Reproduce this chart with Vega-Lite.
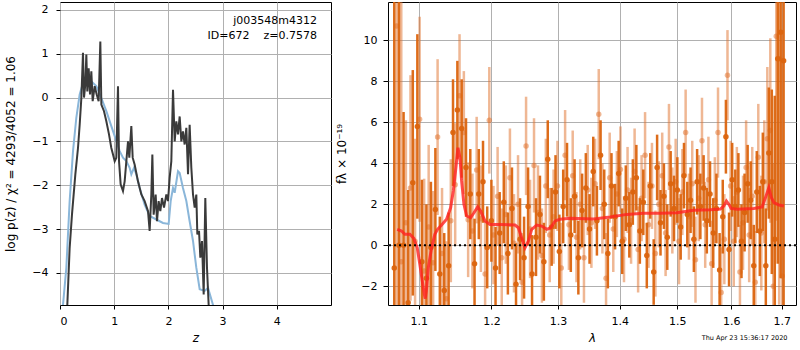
{
  "$schema": "https://vega.github.io/schema/vega-lite/v6.json",
  "background": "white",
  "padding": {"left": 4, "top": 1, "right": 0, "bottom": 0},
  "spacing": 3,
  "config": {
    "font": "DejaVu Sans",
    "view": {"stroke": "black", "strokeWidth": 1},
    "axis": {
      "domain": false,
      "grid": true,
      "gridColor": "#b0b0b0",
      "gridWidth": 1,
      "tickColor": "black",
      "tickSize": 4,
      "labelColor": "black",
      "labelFontSize": 11,
      "labelFont": "DejaVu Sans",
      "titleFont": "DejaVu Sans",
      "titleFontSize": 12,
      "titleFontWeight": "normal",
      "titleColor": "black"
    }
  },
  "title": {"text": "Thu Apr 23 15:36:17 2020", "orient": "bottom", "anchor": "end", "fontSize": 6.5, "fontWeight": "normal", "font": "DejaVu Sans", "color": "black", "offset": -9, "dx": -10},
  "datasets": {
    "blk": [
      {"z":0.12,"v":-5.3},{"z":0.135,"v":-4.73},{"z":0.178,"v":-3.43},{"z":0.221,"v":-2.67},{"z":0.283,"v":-1.75},{"z":0.332,"v":-1.15},{"z":0.363,"v":-0.62},{"z":0.394,"v":-0.01},{"z":0.424,"v":1.02},{"z":0.443,"v":0.0},{"z":0.467,"v":0.30},{"z":0.486,"v":0.98},{"z":0.504,"v":0.14},{"z":0.529,"v":0.67},{"z":0.554,"v":0.07},{"z":0.578,"v":0.60},{"z":0.603,"v":-0.08},{"z":0.640,"v":0.26},{"z":0.677,"v":0.07},{"z":0.713,"v":-0.08},{"z":0.744,"v":1.28},{"z":0.763,"v":-0.16},{"z":0.812,"v":-0.31},{"z":0.855,"v":-0.54},{"z":0.904,"v":-0.84},{"z":0.947,"v":-1.15},{"z":0.978,"v":-1.30},{"z":1.009,"v":-1.45},{"z":1.039,"v":-1.37},{"z":1.070,"v":0.26},{"z":1.089,"v":-1.45},{"z":1.119,"v":-1.98},{"z":1.162,"v":-2.13},{"z":1.193,"v":-1.91},{"z":1.224,"v":-1.45},{"z":1.255,"v":-1.0},{"z":1.279,"v":-1.37},{"z":1.316,"v":-0.65},{"z":1.341,"v":-1.37},{"z":1.378,"v":-1.53},{"z":1.439,"v":-1.91},{"z":1.501,"v":-2.21},{"z":1.562,"v":-2.36},{"z":1.624,"v":-2.59},{"z":1.654,"v":-3.04},{"z":1.685,"v":-2.21},{"z":1.704,"v":-1.30},{"z":1.728,"v":-2.67},{"z":1.765,"v":-2.21},{"z":1.790,"v":-2.82},{"z":1.820,"v":-2.36},{"z":1.851,"v":-2.59},{"z":1.882,"v":-2.29},{"z":1.919,"v":-2.51},{"z":1.962,"v":-2.21},{"z":1.993,"v":-2.36},{"z":2.023,"v":-1.83},{"z":2.054,"v":-1.45},{"z":2.085,"v":0.18},{"z":2.116,"v":-1.0},{"z":2.146,"v":-0.54},{"z":2.177,"v":-0.84},{"z":2.208,"v":-0.43},{"z":2.239,"v":-1.0},{"z":2.269,"v":-0.77},{"z":2.300,"v":-1.07},{"z":2.331,"v":-0.69},{"z":2.362,"v":-1.75},{"z":2.392,"v":-0.62},{"z":2.423,"v":-1.60},{"z":2.454,"v":-2.21},{"z":2.485,"v":-2.51},{"z":2.515,"v":-2.21},{"z":2.534,"v":-3.12},{"z":2.565,"v":-3.04},{"z":2.589,"v":-3.65},{"z":2.620,"v":-3.27},{"z":2.651,"v":-4.49},{"z":2.681,"v":-2.29},{"z":2.712,"v":-3.88},{"z":2.743,"v":-4.73},{"z":2.78,"v":-5.5}
    ],
    "blu": [
      {"z":0.045,"v":-5.4},{"z":0.055,"v":-4.73},{"z":0.117,"v":-3.88},{"z":0.178,"v":-2.36},{"z":0.240,"v":-1.22},{"z":0.301,"v":-0.46},{"z":0.363,"v":0.07},{"z":0.424,"v":0.33},{"z":0.486,"v":0.41},{"z":0.578,"v":0.37},{"z":0.670,"v":0.26},{"z":0.763,"v":-0.01},{"z":0.855,"v":-0.31},{"z":0.947,"v":-0.65},{"z":1.039,"v":-0.99},{"z":1.101,"v":-1.22},{"z":1.162,"v":-1.37},{"z":1.224,"v":-1.45},{"z":1.285,"v":-1.60},{"z":1.316,"v":-1.75},{"z":1.365,"v":-1.60},{"z":1.408,"v":-1.75},{"z":1.470,"v":-2.06},{"z":1.562,"v":-2.44},{"z":1.654,"v":-2.70},{"z":1.777,"v":-2.78},{"z":1.900,"v":-2.86},{"z":2.005,"v":-2.88},{"z":2.042,"v":-2.36},{"z":2.085,"v":-2.06},{"z":2.116,"v":-2.17},{"z":2.177,"v":-1.68},{"z":2.208,"v":-1.72},{"z":2.269,"v":-2.06},{"z":2.331,"v":-2.36},{"z":2.392,"v":-2.82},{"z":2.454,"v":-3.27},{"z":2.515,"v":-3.88},{"z":2.577,"v":-4.37},{"z":2.669,"v":-4.41},{"z":2.731,"v":-4.34},{"z":2.823,"v":-4.73},{"z":2.88,"v":-5.3}
    ],
    "model": [
      {"l":1.0718,"f":0.78},{"l":1.0774,"f":0.70},{"l":1.0816,"f":0.54},{"l":1.0882,"f":0.54},{"l":1.0934,"f":0.34},{"l":1.0979,"f":-0.12},{"l":1.1013,"f":-0.93},{"l":1.1045,"f":-1.74},{"l":1.1072,"f":-2.39},{"l":1.1085,"f":-2.6},{"l":1.1100,"f":-2.2},{"l":1.1125,"f":-1.09},{"l":1.1169,"f":-0.12},{"l":1.1213,"f":0.54},{"l":1.1250,"f":0.78},{"l":1.1304,"f":0.99},{"l":1.1372,"f":1.27},{"l":1.1427,"f":1.83},{"l":1.1464,"f":2.65},{"l":1.1500,"f":3.79},{"l":1.1528,"f":4.76},{"l":1.1556,"f":4.27},{"l":1.1579,"f":3.14},{"l":1.1611,"f":2.0},{"l":1.1649,"f":1.43},{"l":1.1705,"f":1.35},{"l":1.1752,"f":1.59},{"l":1.1804,"f":1.87},{"l":1.1847,"f":1.67},{"l":1.1908,"f":1.19},{"l":1.1980,"f":1.02},{"l":1.2125,"f":1.02},{"l":1.2345,"f":0.99},{"l":1.2395,"f":0.86},{"l":1.2444,"f":0.37},{"l":1.2494,"f":-0.12},{"l":1.2545,"f":0.21},{"l":1.2595,"f":0.78},{"l":1.2671,"f":0.99},{"l":1.2747,"f":0.94},{"l":1.2825,"f":0.78},{"l":1.2886,"f":0.86},{"l":1.2953,"f":1.19},{"l":1.3031,"f":1.27},{"l":1.3189,"f":1.32},{"l":1.3565,"f":1.28},{"l":1.3838,"f":1.38},{"l":1.4119,"f":1.51},{"l":1.4405,"f":1.56},{"l":1.4695,"f":1.56},{"l":1.4993,"f":1.59},{"l":1.5297,"f":1.71},{"l":1.5606,"f":1.74},{"l":1.5795,"f":1.77},{"l":1.5860,"f":1.92},{"l":1.5910,"f":2.16},{"l":1.5956,"f":2.0},{"l":1.6000,"f":1.80},{"l":1.6116,"f":1.76},{"l":1.6441,"f":1.80},{"l":1.6606,"f":1.87},{"l":1.6672,"f":2.32},{"l":1.6740,"f":2.81},{"l":1.6793,"f":2.32},{"l":1.6842,"f":2.08},{"l":1.6944,"f":1.97},{"l":1.7046,"f":1.92}
    ],
    "dark": [
      {"l":1.068,"f":-1.1,"e":14},{"l":1.074,"f":0.0,"e":14},{"l":1.080,"f":0.0,"e":6.5},{"l":1.086,"f":-2.8,"e":5.5},{"l":1.092,"f":3.05,"e":5.5},{"l":1.098,"f":5.8,"e":4.5},{"l":1.104,"f":-0.8,"e":4.0},{"l":1.110,"f":-1.6,"e":3.6},{"l":1.116,"f":-0.1,"e":3.2},{"l":1.122,"f":1.75,"e":3.0},{"l":1.128,"f":-1.4,"e":2.8},{"l":1.134,"f":-2.2,"e":2.8},{"l":1.140,"f":-1.0,"e":2.6},{"l":1.146,"f":5.5,"e":2.6},{"l":1.152,"f":6.6,"e":2.4},{"l":1.158,"f":5.7,"e":2.4},{"l":1.164,"f":3.8,"e":2.4},{"l":1.170,"f":2.5,"e":2.2},{"l":1.176,"f":-0.9,"e":2.2},{"l":1.182,"f":2.5,"e":2.2},{"l":1.188,"f":3.1,"e":2.0},{"l":1.194,"f":-0.1,"e":2.0},{"l":1.200,"f":1.2,"e":2.0},{"l":1.206,"f":-1.1,"e":2.0},{"l":1.212,"f":0.6,"e":2.0},{"l":1.218,"f":2.1,"e":2.0},{"l":1.224,"f":-0.4,"e":2.0},{"l":1.230,"f":1.8,"e":2.0},{"l":1.236,"f":-1.9,"e":2.0},{"l":1.242,"f":0.3,"e":2.0},{"l":1.248,"f":-0.6,"e":2.0},{"l":1.254,"f":1.9,"e":1.9},{"l":1.260,"f":-1.4,"e":1.9},{"l":1.266,"f":0.4,"e":1.9},{"l":1.272,"f":1.5,"e":1.9},{"l":1.278,"f":-0.8,"e":1.9},{"l":1.284,"f":4.2,"e":1.9},{"l":1.290,"f":0.9,"e":1.9},{"l":1.296,"f":2.6,"e":1.8},{"l":1.302,"f":-0.3,"e":1.8},{"l":1.308,"f":1.9,"e":1.8},{"l":1.314,"f":3.2,"e":1.8},{"l":1.320,"f":0.5,"e":1.8},{"l":1.326,"f":2.4,"e":1.8},{"l":1.332,"f":-0.6,"e":1.8},{"l":1.338,"f":1.7,"e":1.8},{"l":1.344,"f":2.8,"e":1.7},{"l":1.350,"f":0.8,"e":1.7},{"l":1.356,"f":3.6,"e":1.7},{"l":1.362,"f":1.2,"e":1.7},{"l":1.368,"f":4.4,"e":1.7},{"l":1.374,"f":2.0,"e":1.7},{"l":1.380,"f":-0.4,"e":1.7},{"l":1.386,"f":2.9,"e":1.6},{"l":1.392,"f":1.4,"e":1.6},{"l":1.398,"f":3.5,"e":1.6},{"l":1.404,"f":0.2,"e":1.6},{"l":1.410,"f":2.3,"e":1.6},{"l":1.416,"f":1.0,"e":1.6},{"l":1.422,"f":2.6,"e":1.6},{"l":1.428,"f":3.3,"e":1.6},{"l":1.434,"f":0.7,"e":1.6},{"l":1.440,"f":2.1,"e":1.6},{"l":1.446,"f":-0.5,"e":1.6},{"l":1.452,"f":2.9,"e":1.6},{"l":1.458,"f":-1.3,"e":1.6},{"l":1.464,"f":3.8,"e":1.6},{"l":1.470,"f":1.1,"e":1.6},{"l":1.476,"f":2.4,"e":1.6},{"l":1.482,"f":0.4,"e":1.6},{"l":1.488,"f":3.0,"e":1.6},{"l":1.494,"f":1.8,"e":1.6},{"l":1.500,"f":2.7,"e":1.6},{"l":1.506,"f":0.9,"e":1.6},{"l":1.512,"f":3.4,"e":1.6},{"l":1.518,"f":1.5,"e":1.6},{"l":1.524,"f":2.2,"e":1.6},{"l":1.530,"f":0.3,"e":1.6},{"l":1.536,"f":3.1,"e":1.6},{"l":1.542,"f":1.9,"e":1.6},{"l":1.548,"f":2.8,"e":1.6},{"l":1.554,"f":1.2,"e":1.6},{"l":1.560,"f":2.5,"e":1.6},{"l":1.566,"f":0.6,"e":1.7},{"l":1.572,"f":1.8,"e":1.7},{"l":1.578,"f":-1.2,"e":1.8},{"l":1.584,"f":1.4,"e":1.8},{"l":1.590,"f":5.3,"e":1.8},{"l":1.596,"f":-0.2,"e":1.8},{"l":1.602,"f":3.2,"e":1.8},{"l":1.608,"f":1.9,"e":1.8},{"l":1.614,"f":2.7,"e":1.8},{"l":1.620,"f":0.2,"e":1.8},{"l":1.626,"f":1.6,"e":1.9},{"l":1.632,"f":3.0,"e":1.9},{"l":1.638,"f":2.2,"e":1.9},{"l":1.644,"f":-1.0,"e":2.0},{"l":1.650,"f":2.6,"e":2.0},{"l":1.656,"f":0.7,"e":2.2},{"l":1.662,"f":3.1,"e":2.4},{"l":1.668,"f":-1.0,"e":2.8},{"l":1.674,"f":4.5,"e":3.2},{"l":1.680,"f":3.1,"e":4.5},{"l":1.686,"f":0.3,"e":7},{"l":1.692,"f":9.1,"e":10},{"l":1.698,"f":10.4,"e":12},{"l":1.704,"f":9.0,"e":12}
    ],
    "light": [
      {"l":1.071,"f":10.7,"e":14},{"l":1.077,"f":-0.8,"e":14},{"l":1.083,"f":1.1,"e":5.0},{"l":1.089,"f":2.8,"e":5.5},{"l":1.095,"f":0.2,"e":5.0},{"l":1.101,"f":6.15,"e":5.0},{"l":1.107,"f":-1.25,"e":4.5},{"l":1.113,"f":0.9,"e":4.0},{"l":1.119,"f":-0.85,"e":3.5},{"l":1.125,"f":5.28,"e":3.8},{"l":1.131,"f":-0.4,"e":3.2},{"l":1.137,"f":-2.6,"e":2.8},{"l":1.143,"f":1.2,"e":3.0},{"l":1.149,"f":2.96,"e":3.0},{"l":1.155,"f":7.3,"e":3.0},{"l":1.161,"f":5.5,"e":3.0},{"l":1.167,"f":1.25,"e":2.8},{"l":1.173,"f":0.7,"e":2.8},{"l":1.179,"f":3.67,"e":2.6},{"l":1.185,"f":1.3,"e":2.6},{"l":1.191,"f":-1.4,"e":2.6},{"l":1.197,"f":6.1,"e":2.6},{"l":1.203,"f":0.5,"e":2.4},{"l":1.209,"f":2.4,"e":2.4},{"l":1.215,"f":-0.6,"e":2.4},{"l":1.221,"f":1.5,"e":2.4},{"l":1.227,"f":3.3,"e":2.4},{"l":1.233,"f":0.1,"e":2.4},{"l":1.239,"f":2.0,"e":2.4},{"l":1.245,"f":-1.8,"e":2.4},{"l":1.251,"f":4.85,"e":2.4},{"l":1.257,"f":0.8,"e":2.4},{"l":1.263,"f":3.9,"e":2.3},{"l":1.269,"f":1.6,"e":2.3},{"l":1.275,"f":-0.5,"e":2.3},{"l":1.281,"f":2.9,"e":2.3},{"l":1.287,"f":0.5,"e":2.3},{"l":1.293,"f":1.4,"e":2.3},{"l":1.299,"f":2.9,"e":2.2},{"l":1.305,"f":-1.1,"e":2.2},{"l":1.311,"f":4.4,"e":2.2},{"l":1.317,"f":1.0,"e":2.2},{"l":1.323,"f":3.4,"e":2.2},{"l":1.329,"f":0.4,"e":2.2},{"l":1.335,"f":2.0,"e":2.2},{"l":1.341,"f":-0.6,"e":2.2},{"l":1.347,"f":2.7,"e":2.2},{"l":1.353,"f":1.1,"e":2.2},{"l":1.359,"f":3.0,"e":2.2},{"l":1.365,"f":6.4,"e":2.2},{"l":1.371,"f":1.8,"e":2.2},{"l":1.377,"f":-1.6,"e":2.2},{"l":1.383,"f":3.3,"e":2.2},{"l":1.389,"f":0.8,"e":2.1},{"l":1.395,"f":2.5,"e":2.1},{"l":1.401,"f":3.7,"e":2.1},{"l":1.407,"f":0.3,"e":2.1},{"l":1.413,"f":2.7,"e":2.1},{"l":1.419,"f":1.2,"e":2.1},{"l":1.425,"f":3.6,"e":2.1},{"l":1.431,"f":-0.2,"e":2.1},{"l":1.437,"f":2.3,"e":2.1},{"l":1.443,"f":4.4,"e":2.1},{"l":1.449,"f":1.0,"e":2.1},{"l":1.455,"f":2.9,"e":2.1},{"l":1.461,"f":-0.4,"e":2.1},{"l":1.467,"f":2.0,"e":2.1},{"l":1.473,"f":3.4,"e":2.1},{"l":1.479,"f":0.6,"e":2.1},{"l":1.485,"f":4.8,"e":2.1},{"l":1.491,"f":1.7,"e":2.1},{"l":1.497,"f":3.1,"e":2.1},{"l":1.503,"f":0.2,"e":2.1},{"l":1.509,"f":2.6,"e":2.1},{"l":1.515,"f":5.5,"e":2.1},{"l":1.521,"f":1.4,"e":2.1},{"l":1.527,"f":3.0,"e":2.1},{"l":1.533,"f":-0.7,"e":2.1},{"l":1.539,"f":2.3,"e":2.1},{"l":1.545,"f":5.1,"e":2.1},{"l":1.551,"f":1.0,"e":2.1},{"l":1.557,"f":3.2,"e":2.1},{"l":1.563,"f":-0.9,"e":2.1},{"l":1.569,"f":2.2,"e":2.1},{"l":1.575,"f":5.5,"e":2.2},{"l":1.581,"f":-2.3,"e":2.2},{"l":1.587,"f":0.3,"e":2.2},{"l":1.593,"f":8.3,"e":2.2},{"l":1.599,"f":2.9,"e":2.2},{"l":1.605,"f":0.2,"e":2.2},{"l":1.611,"f":2.6,"e":2.2},{"l":1.617,"f":-1.3,"e":2.3},{"l":1.623,"f":1.1,"e":2.3},{"l":1.629,"f":3.8,"e":2.3},{"l":1.635,"f":0.5,"e":2.3},{"l":1.641,"f":2.4,"e":2.4},{"l":1.647,"f":-1.8,"e":2.5},{"l":1.653,"f":4.3,"e":2.6},{"l":1.659,"f":0.6,"e":2.8},{"l":1.665,"f":3.1,"e":3.0},{"l":1.671,"f":5.2,"e":3.5},{"l":1.677,"f":5.6,"e":4.5},{"l":1.683,"f":-2.0,"e":6},{"l":1.689,"f":10.2,"e":9},{"l":1.695,"f":9.1,"e":12},{"l":1.701,"f":-1.5,"e":12}
    ]
  },
  "hconcat": [
    {
      "width": 271,
      "height": 303,
      "layer": [
        {
          "data": {"name": "blu"},
          "mark": {"type": "line", "color": "#8ab6d9", "strokeWidth": 2, "clip": true},
          "encoding": {
            "x": {"field": "z", "type": "quantitative", "title": "z", "scale": {"domain": [0, 5], "nice": false, "zero": false},
                  "axis": {"values": [0, 1, 2, 3, 4], "titleFontStyle": "italic", "labelPadding": 6, "titlePadding": 6}},
            "y": {"field": "v", "type": "quantitative", "title": "log p(z) / χ² = 4293/4052 = 1.06", "scale": {"domain": [-4.73, 2.18], "nice": false, "zero": false},
                  "axis": {"values": [-4, -3, -2, -1, 0, 1, 2], "labelPadding": 8, "titlePadding": 14}}
          }
        },
        {
          "data": {"name": "blk"},
          "mark": {"type": "line", "color": "#3a3a3a", "strokeWidth": 2, "clip": true},
          "encoding": {
            "x": {"field": "z", "type": "quantitative", "title": "z"},
            "y": {"field": "v", "type": "quantitative", "title": "log p(z) / χ² = 4293/4052 = 1.06"}
          }
        },
        {
          "data": {"values": [{}]},
          "mark": {"type": "text", "align": "right", "baseline": "top", "fontSize": 11, "lineHeight": 15, "color": "black", "font": "DejaVu Sans"},
          "encoding": {
            "x": {"datum": 4.74, "type": "quantitative", "title": "z"},
            "y": {"datum": 1.88, "type": "quantitative", "title": "log p(z) / χ² = 4293/4052 = 1.06"},
            "text": {"value": ["j003548m4312", "ID=672\u00a0\u00a0\u00a0\u00a0z=0.7578"]}
          }
        }
      ]
    },
    {
      "width": 408,
      "height": 303,
      "layer": [
        {
          "data": {"name": "light"},
          "mark": {"type": "errorbar", "color": "#e0702a", "opacity": 0.5, "thickness": 2.5, "clip": true},
          "encoding": {
            "x": {"field": "l", "type": "quantitative", "title": "λ", "scale": {"type": "log", "domain": [1.06, 1.7295], "nice": false, "zero": false},
                  "axis": {"values": [1.1, 1.2, 1.3, 1.4, 1.5, 1.6, 1.7], "format": ".1f", "titleFontStyle": "italic", "labelPadding": 6, "titlePadding": 6}},
            "y": {"field": "f", "type": "quantitative", "title": "fλ × 10⁻¹⁹", "scale": {"domain": [-2.91, 11.87], "nice": false, "zero": false},
                  "axis": {"values": [-2, 0, 2, 4, 6, 8, 10], "tickSize": 5, "labelPadding": 6, "titlePadding": 12}},
            "yError": {"field": "e"}
          }
        },
        {
          "data": {"name": "light"},
          "mark": {"type": "circle", "color": "#e0702a", "opacity": 0.5, "size": 30, "clip": true},
          "encoding": {
            "x": {"field": "l", "type": "quantitative", "title": "λ"},
            "y": {"field": "f", "type": "quantitative", "title": "fλ × 10⁻¹⁹"}
          }
        },
        {
          "data": {"name": "dark"},
          "mark": {"type": "errorbar", "color": "#db640e", "opacity": 0.95, "thickness": 2.5, "clip": true},
          "encoding": {
            "x": {"field": "l", "type": "quantitative", "title": "λ"},
            "y": {"field": "f", "type": "quantitative", "title": "fλ × 10⁻¹⁹"},
            "yError": {"field": "e"}
          }
        },
        {
          "data": {"name": "dark"},
          "mark": {"type": "circle", "color": "#db640e", "opacity": 0.95, "size": 30, "clip": true},
          "encoding": {
            "x": {"field": "l", "type": "quantitative", "title": "λ"},
            "y": {"field": "f", "type": "quantitative", "title": "fλ × 10⁻¹⁹"}
          }
        },
        {
          "data": {"name": "model"},
          "mark": {"type": "line", "color": "#ff2020", "opacity": 0.8, "strokeWidth": 3, "clip": true},
          "encoding": {
            "x": {"field": "l", "type": "quantitative", "title": "λ"},
            "y": {"field": "f", "type": "quantitative", "title": "fλ × 10⁻¹⁹"}
          }
        },
        {
          "data": {"values": [{}]},
          "mark": {"type": "rule", "color": "black", "strokeWidth": 2, "strokeDash": [2, 3]},
          "encoding": {
            "y": {"datum": 0, "type": "quantitative", "title": "fλ × 10⁻¹⁹"}
          }
        }
      ]
    }
  ]
}
